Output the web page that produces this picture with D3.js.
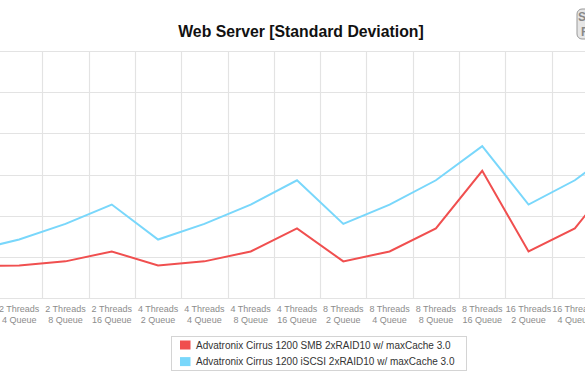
<!DOCTYPE html>
<html>
<head>
<meta charset="utf-8">
<script src="https://cdn.jsdelivr.net/npm/d3@7"></script>
<style>
  html, body { margin: 0; padding: 0; background: #fff; }
  svg { display: block; font-family: "Liberation Sans", Arial, Helvetica, sans-serif; }
</style>
</head>
<body>
<svg id="chart" width="585" height="390"></svg>
<script>
// ---- data ----
const title = "Web Server [Standard Deviation]";
const categories = [
  "2 Threads 2 Queue", "2 Threads 4 Queue", "2 Threads 8 Queue", "2 Threads 16 Queue",
  "4 Threads 2 Queue", "4 Threads 4 Queue", "4 Threads 8 Queue", "4 Threads 16 Queue",
  "8 Threads 2 Queue", "8 Threads 4 Queue", "8 Threads 8 Queue", "8 Threads 16 Queue",
  "16 Threads 2 Queue", "16 Threads 4 Queue", "16 Threads 8 Queue", "16 Threads 16 Queue"
];
const seriesNames = [
  "Advatronix Cirrus 1200 SMB 2xRAID10 w/ maxCache 3.0",
  "Advatronix Cirrus 1200 iSCSI 2xRAID10 w/ maxCache 3.0"
];
const smbValues   = [7.8, 7.9, 8.9, 11.3, 7.9, 8.9, 11.3, 16.9, 8.9, 11.3, 16.9, 30.9, 11.3, 16.9, 30.9, 44.0];
const iscsiValues = [11.5, 14.2, 18.0, 22.7, 14.2, 18.0, 22.7, 28.6, 18.0, 22.7, 28.6, 36.9, 22.7, 28.6, 36.9, 47.0];
const yTicks = [0, 10, 20, 30, 40, 50, 60];
const colors = ["#f04f4f", "#79d7fb"];

// ---- layout ----
const svg = d3.select("#chart");
const W = 585, H = 390;
const plotTop = 51, plotBottom = 298;

const x = d3.scaleBand().domain(categories).range([-50.3, 690.6]).padding(0);
const y = d3.scaleLinear().domain([0, 60]).range([plotBottom, plotTop]);

// title
svg.append("text")
  .attr("x", 301).attr("y", 37)
  .attr("text-anchor", "middle")
  .attr("font-size", 15.8).attr("font-weight", "bold").attr("fill", "#111")
  .text(title);

// logo (partially visible at right edge)
const logo = svg.append("g").attr("transform", "translate(576,9)");
logo.append("rect").attr("x", 1).attr("y", 0).attr("width", 14).attr("height", 30).attr("rx", 5)
  .attr("fill", "#e6e6e6").attr("stroke", "#999").attr("stroke-width", 1);
logo.append("text").attr("x", 2).attr("y", 12).attr("font-size", 12).attr("font-weight", "bold")
  .attr("fill", "#888").text("S");
logo.append("text").attr("x", 5).attr("y", 27).attr("font-size", 12).attr("font-weight", "bold")
  .attr("fill", "#888").text("R");

// grid
const grid = svg.append("g").attr("stroke", "#e3e3e3").attr("stroke-width", 1.2);
grid.selectAll("line.h").data(yTicks).join("line")
  .attr("x1", 0).attr("x2", W)
  .attr("y1", d => Math.round(y(d)) + 0.5).attr("y2", d => Math.round(y(d)) + 0.5);
const edges = categories.map(c => x(c)).concat([x(categories[categories.length - 1]) + x.bandwidth()]);
grid.selectAll("line.v").data(edges).join("line")
  .attr("x1", d => Math.round(d) + 0.5).attr("x2", d => Math.round(d) + 0.5)
  .attr("y1", plotTop).attr("y2", plotBottom);

// x labels (only those that fall within the visible frame)
const xl = svg.append("g").attr("font-size", 9).attr("fill", "#8c8c8c").attr("text-anchor", "middle");
categories.forEach(c => {
  const cx = x(c) + x.bandwidth() / 2;
  if (cx < 0 || cx > W) return;
  const i = c.indexOf("Threads") + "Threads".length;
  const l1 = c.slice(0, i), l2 = c.slice(i + 1);
  const t = xl.append("text").attr("x", cx);
  t.append("tspan").attr("x", cx).attr("y", 312).text(l1);
  t.append("tspan").attr("x", cx).attr("y", 323).text(l2);
});

// lines
const line = d3.line()
  .x((d, i) => x(categories[i]) + x.bandwidth() / 2)
  .y(d => y(d));
[smbValues, iscsiValues].forEach((vals, k) => {
  svg.append("path").datum(vals)
    .attr("d", line)
    .attr("fill", "none")
    .attr("stroke", colors[k])
    .attr("stroke-width", 2)
    .attr("stroke-linejoin", "miter");
});

// legend
const lg = svg.append("g");
lg.append("rect").attr("x", 171.5).attr("y", 336.5).attr("width", 295).attr("height", 34)
  .attr("fill", "#fff").attr("stroke", "#d4d4d4");
seriesNames.forEach((n, k) => {
  lg.append("rect").attr("x", 180).attr("y", 340.5 + k * 16.6).attr("width", 10.5).attr("height", 9)
    .attr("fill", colors[k]);
  lg.append("text").attr("x", 196).attr("y", 348.5 + k * 16.6)
    .attr("font-size", 10).attr("fill", "#333").text(n);
});
</script>
</body>
</html>
